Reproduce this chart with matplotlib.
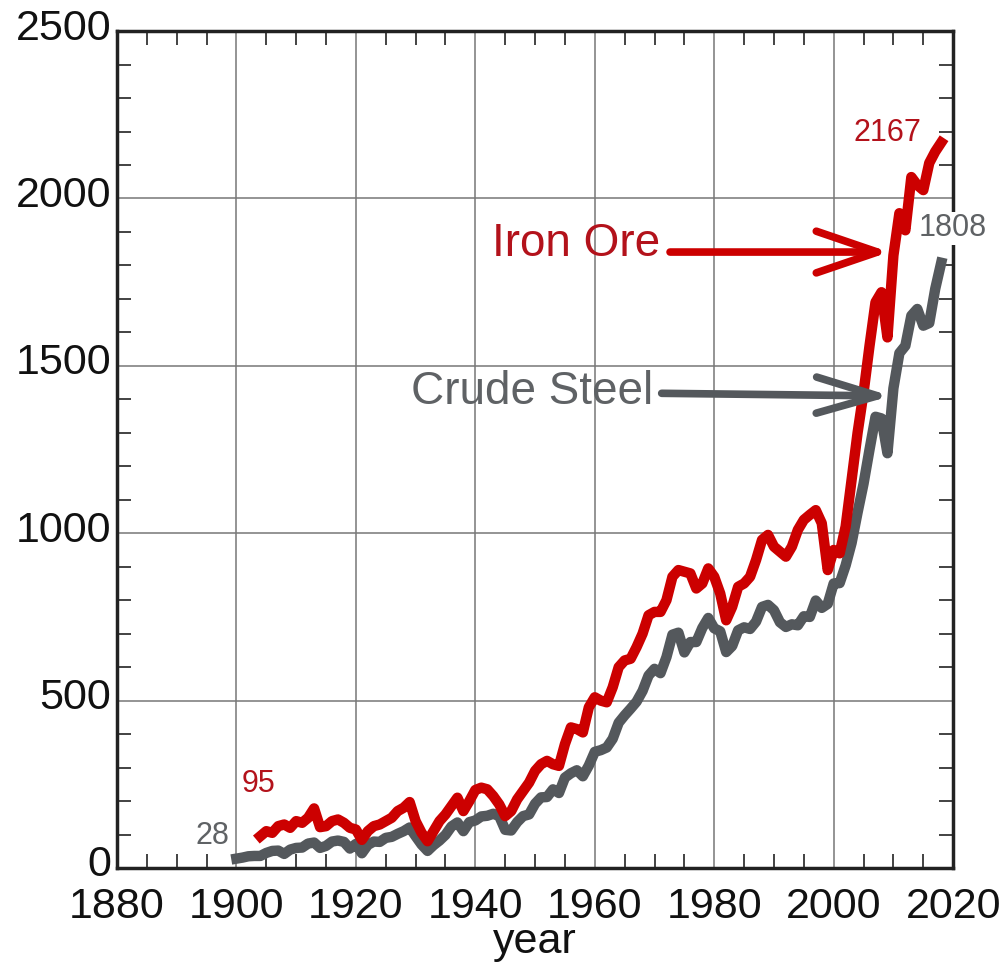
import numpy as np
import matplotlib
matplotlib.use('Agg')
import matplotlib.pyplot as plt
import matplotlib.transforms as mtransforms
from matplotlib.ticker import MultipleLocator

plt.rcParams['font.family'] = ['Liberation Sans', 'DejaVu Sans']

# world crude steel output (Mt), 1900-2018
steel_years = np.arange(1900, 2019)
steel = [28, 31, 35, 36, 36, 45, 51, 52, 42, 55,
         60, 61, 73, 76, 60, 66, 79, 82, 78, 58,
         72, 44, 69, 79, 78, 90, 93, 102, 110, 121,
         95, 70, 51, 68, 82, 99, 124, 136, 110, 137,
         142, 154, 156, 162, 155, 114, 112, 137, 155, 160,
         192, 211, 212, 235, 224, 270, 283, 292, 274, 306,
         347, 352, 360, 386, 434, 456, 476, 497, 529, 575,
         595, 582, 630, 697, 703, 644, 675, 675, 717, 747,
         716, 707, 645, 663, 710, 719, 714, 736, 780, 786,
         770, 734, 720, 728, 725, 752, 750, 799, 777, 789,
         850, 851, 904, 971, 1062, 1148, 1250, 1348, 1343, 1239,
         1433, 1538, 1560, 1650, 1670, 1620, 1628, 1730, 1808]

# world iron ore output (Mt), 1904-2018
ore_years = np.arange(1904, 2019)
ore = [95, 110, 105, 125, 130, 120,
       140, 135, 150, 178, 122, 125, 140, 145, 135, 120,
       115, 84, 110, 125, 130, 140, 150, 170, 180, 197,
       140, 105, 80, 110, 140, 160, 185, 210, 170, 200,
       233, 240, 235, 215, 190, 155, 170, 205, 230, 255,
       290, 310, 320, 310, 305, 370, 420, 415, 405, 480,
       510, 500, 495, 540, 600, 620, 625, 660, 700, 755,
       765, 765, 800, 870, 890, 885, 880, 835, 850, 895,
       870, 820, 740, 780, 840, 850, 870, 920, 980, 995,
       960, 945, 930, 960, 1010, 1040, 1055, 1069, 1030, 890,
       950, 940, 1020, 1160, 1300, 1420, 1560, 1690, 1720, 1585,
       1830, 1956, 1905, 2064, 2040, 2025, 2106, 2140, 2167]

red = '#cc0000'
red_txt = '#b3121b'
grey = '#54585c'
grey_txt = '#5f6265'

fig = plt.figure(figsize=(10.05, 9.72), dpi=100)
ax = fig.add_axes([0.1164, 0.107, 0.832, 0.861])

ax.plot(steel_years, steel, color=grey, linewidth=7.5, zorder=3)
ax.plot(ore_years, ore, color=red, linewidth=7.5, zorder=4)

ax.set_xlim(1880, 2020)
ax.set_ylim(0, 2500)
ax.xaxis.set_major_locator(MultipleLocator(20))
ax.xaxis.set_minor_locator(MultipleLocator(5))
ax.yaxis.set_major_locator(MultipleLocator(500))
ax.yaxis.set_minor_locator(MultipleLocator(100))
ax.grid(True, which='major', color='#777777', linewidth=1.1, zorder=1)
ax.tick_params(which='both', direction='in', top=True, right=True,
               labelsize=31, width=1.2, colors='#222222', labelcolor='#111111')
ax.tick_params(which='major', length=0)
ax.tick_params(which='minor', length=10)
ax.tick_params(axis='x', pad=14)
ax.tick_params(axis='y', pad=4)
for s in ax.spines.values():
    s.set_linewidth(2.5)
    s.set_color('#222222')
    s.set_zorder(5)
ax.set_xlabel('year', fontsize=31, labelpad=-4, color='#111111')

# y labels sit a little above their ticks
shift = mtransforms.ScaledTranslation(0, 7 / 100, fig.dpi_scale_trans)
for lab in ax.get_yticklabels():
    lab.set_transform(lab.get_transform() + shift)

# end-point labels
ax.text(1903.7, 250, '95', color=red_txt, fontsize=22, ha='center', va='center')
ax.text(1896, 95, '28', color=grey_txt, fontsize=22, ha='center', va='center')
ax.text(2009, 2197, '2167', color=red_txt, fontsize=22, ha='center', va='center')
ax.text(2020, 1911, '1808', color=grey_txt, fontsize=22, ha='center', va='center',
        clip_on=False, zorder=6,
        bbox=dict(facecolor='white', edgecolor='none', pad=1))

# series captions with arrows
ax.text(1971, 1865, 'Iron Ore', color=red_txt, fontsize=33, ha='right', va='center', zorder=6)
ax.annotate('', xy=(2009.3, 1840), xytext=(1972.6, 1840),
            arrowprops=dict(arrowstyle='->,head_length=2.2,head_width=0.75',
                            color=red, lw=5.5, mutation_scale=20, shrinkA=0, shrinkB=0),
            zorder=6)
ax.text(1969.8, 1422, 'Crude Steel', color=grey_txt, fontsize=33, ha='right', va='center', zorder=6)
ax.annotate('', xy=(2009.6, 1410), xytext=(1971.2, 1418),
            arrowprops=dict(arrowstyle='->,head_length=2.2,head_width=0.65',
                            color=grey, lw=5.5, mutation_scale=20, shrinkA=0, shrinkB=0),
            zorder=6)

fig.savefig('out.png', dpi=100)
